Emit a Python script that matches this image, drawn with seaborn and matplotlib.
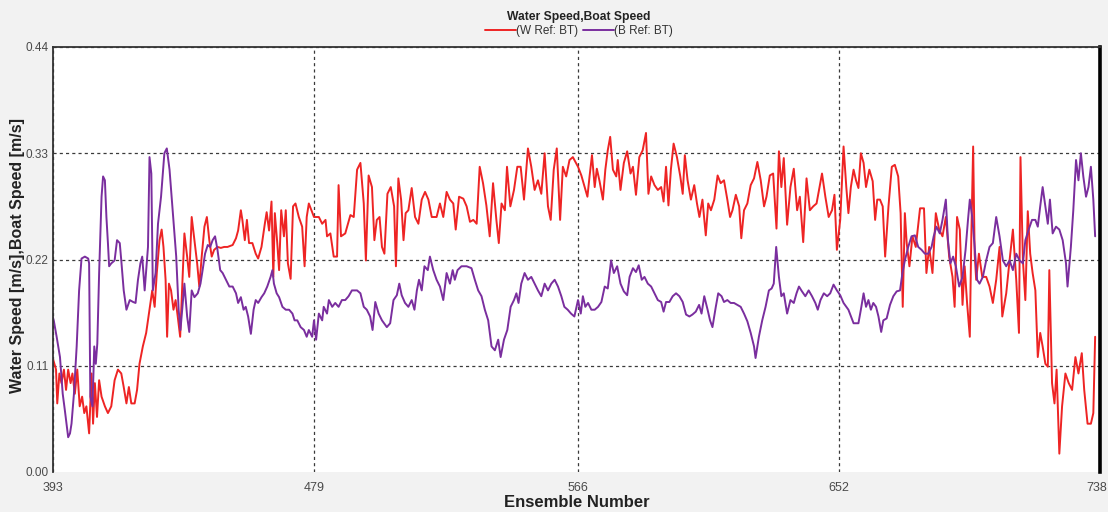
import matplotlib
matplotlib.use("Agg")
import matplotlib.pyplot as plt
import matplotlib.transforms as mtransforms
import pandas as pd
import seaborn as sns

# Water speed (W Ref: BT)
water_ens = [
    393.1, 394.0, 394.4, 395.1, 395.8, 396.6, 397.3, 398.0, 398.8, 399.4, 400.2, 401.0,
    401.8, 402.6, 403.3, 404.0, 404.9, 405.7, 406.2, 406.8, 407.5, 408.2, 409.0, 410.1,
    411.1, 412.2, 413.3, 414.4, 415.5, 416.3, 417.2, 418.0, 418.8, 419.9, 420.7, 421.5,
    422.6, 423.7, 424.8, 425.7, 426.5, 427.2, 428.1, 428.8, 429.4, 430.1, 430.6, 431.2,
    431.9, 432.7, 433.4, 434.1, 434.9,
    436.3, 437.2, 437.9, 438.7, 439.6, 440.5, 441.2, 442.0, 442.9, 443.7, 444.5, 445.3,
    446.1, 447.2, 448.3, 449.4, 450.5, 452.2, 453.3, 454.0, 454.9, 455.4, 456.2, 456.9,
    457.6, 458.7, 459.8, 460.6, 461.7, 462.8, 463.4, 464.2, 465.0, 465.6, 466.1, 466.9,
    467.5, 468.2, 469.1, 469.7, 470.4, 471.3, 472.1, 472.9, 474.0, 475.1, 475.9, 476.6,
    477.3, 479.0, 480.6, 481.7, 482.8, 483.3, 484.4, 485.5, 486.6, 487.1, 487.9, 489.3,
    491.0, 492.1, 493.2, 494.3, 495.4, 496.1, 497.0, 498.1, 498.9, 499.7, 500.6, 501.4,
    502.2, 503.2, 504.3, 505.4, 506.0, 506.8, 507.7, 508.5, 509.2, 510.1, 511.2, 512.3,
    513.4, 514.5, 515.6, 516.7, 517.8, 519.4, 520.5, 521.6, 522.7, 523.8, 524.9, 525.7,
    526.8, 528.2, 529.3, 530.4, 531.5, 532.6, 533.6, 534.7, 535.8, 536.9, 538.0, 539.1,
    539.9, 540.8, 541.9, 542.6, 543.7, 544.9, 546.0, 547.1, 548.2, 549.5, 550.6, 551.7,
    552.8, 553.9, 555.0, 556.1, 557.0, 558.0, 559.0, 560.1, 561.0, 562.1, 563.2, 564.3,
    566.0, 567.1, 568.2, 569.1, 569.8, 570.6, 571.5, 572.2, 573.1, 574.2, 575.0, 575.8,
    576.6, 577.5, 578.6, 579.1, 580.0, 581.1, 582.2, 583.3, 584.1, 585.1, 586.2, 587.3,
    588.4, 589.2, 590.1, 591.2, 592.3, 593.4, 594.2, 595.0, 595.8, 596.6, 597.5, 598.6,
    599.7, 600.5, 601.2, 602.1, 603.2, 604.3, 605.2, 606.0, 607.0, 608.1, 608.9, 609.8,
    610.9, 612.0, 613.0, 614.1, 615.2, 616.1, 616.9, 618.0, 619.1, 619.8, 620.7, 621.8,
    622.9, 624.0, 625.1, 626.2, 627.3, 628.1, 629.2, 630.3, 631.4, 632.2, 633.0, 633.8,
    634.9, 636.0, 637.1, 638.2, 639.1, 640.2, 641.3, 642.4, 643.5, 644.6, 645.6, 646.4,
    647.5, 648.6, 649.7, 650.5, 651.3, 652.4, 653.5,
    654.4, 655.1, 655.9, 656.8, 657.6, 658.4, 659.2, 660.1, 660.9, 662.0, 663.1, 663.9,
    664.6, 665.5, 666.4, 667.2, 668.3, 669.4, 670.4, 671.5, 672.3, 673.0, 673.7, 674.3,
    675.2, 676.2, 677.3, 678.7, 680.0, 680.8, 681.7, 682.8, 683.9, 685.0, 686.1, 687.2,
    688.3, 689.4, 690.1, 690.9, 691.8, 692.7, 693.4, 694.2, 695.1, 695.6, 696.2, 696.7,
    697.2, 698.1, 699.2, 700.5, 701.6, 702.7, 703.8, 704.9, 705.8, 707.1, 708.2, 709.3,
    710.4, 711.3, 711.8, 712.6, 713.4, 714.2, 715.0, 715.8, 716.7, 717.5, 718.3, 719.1,
    720.0, 720.8, 721.3, 722.2, 723.0, 723.7, 724.6, 725.5, 726.6, 727.7, 728.8, 729.9,
    730.9, 732.0, 732.8, 733.9, 735.0, 735.8, 736.4,
]
water_speed = [
    0.116, 0.106, 0.071, 0.102, 0.092, 0.106, 0.085, 0.106, 0.092, 0.102, 0.081, 0.106,
    0.068, 0.078, 0.061, 0.068, 0.040, 0.102, 0.050, 0.092, 0.057, 0.095, 0.078, 0.068,
    0.061, 0.068, 0.095, 0.106, 0.102, 0.088, 0.071, 0.088, 0.071, 0.071, 0.085, 0.112,
    0.130, 0.144, 0.168, 0.188, 0.171, 0.206, 0.240, 0.251, 0.233, 0.199, 0.140, 0.195,
    0.188, 0.168, 0.178, 0.161, 0.140,
    0.247, 0.223, 0.202, 0.264, 0.240, 0.216, 0.192, 0.223, 0.254, 0.264, 0.240, 0.223,
    0.230, 0.233, 0.232, 0.233, 0.233, 0.235, 0.242, 0.250, 0.271, 0.261, 0.240, 0.261,
    0.237, 0.237, 0.226, 0.221, 0.233, 0.257, 0.269, 0.250, 0.280, 0.202, 0.268, 0.237,
    0.209, 0.271, 0.244, 0.271, 0.216, 0.200, 0.275, 0.278, 0.264, 0.254, 0.213, 0.264,
    0.278, 0.264, 0.264, 0.257, 0.261, 0.244, 0.247, 0.223, 0.223, 0.297, 0.244, 0.247,
    0.266, 0.264, 0.313, 0.320, 0.278, 0.219, 0.307, 0.295, 0.240, 0.261, 0.264, 0.233,
    0.226, 0.288, 0.295, 0.275, 0.213, 0.304, 0.282, 0.240, 0.268, 0.271, 0.294, 0.264,
    0.257, 0.282, 0.290, 0.282, 0.264, 0.264, 0.278, 0.264, 0.290, 0.282, 0.278, 0.251,
    0.285, 0.283, 0.275, 0.259, 0.261, 0.257, 0.316, 0.299, 0.276, 0.244, 0.299, 0.261,
    0.237, 0.278, 0.271, 0.316, 0.275, 0.292, 0.316, 0.316, 0.282, 0.335, 0.316, 0.292,
    0.302, 0.288, 0.330, 0.275, 0.261, 0.313, 0.335, 0.261, 0.316, 0.306, 0.323, 0.326,
    0.316, 0.307, 0.295, 0.285, 0.306, 0.328, 0.295, 0.314, 0.301, 0.282, 0.313, 0.333,
    0.347, 0.313, 0.306, 0.323, 0.292, 0.320, 0.332, 0.309, 0.316, 0.287, 0.326, 0.333,
    0.351, 0.288, 0.306, 0.297, 0.292, 0.295, 0.280, 0.316, 0.276, 0.313, 0.340, 0.326,
    0.306, 0.288, 0.328, 0.302, 0.282, 0.297, 0.278, 0.264, 0.282, 0.245, 0.278, 0.271,
    0.282, 0.307, 0.299, 0.302, 0.282, 0.264, 0.271, 0.287, 0.275, 0.242, 0.271, 0.278,
    0.297, 0.304, 0.321, 0.302, 0.275, 0.285, 0.307, 0.309, 0.252, 0.332, 0.295, 0.325,
    0.256, 0.295, 0.314, 0.271, 0.285, 0.238, 0.304, 0.271, 0.275, 0.278, 0.295, 0.309,
    0.285, 0.264, 0.271, 0.287, 0.230, 0.261, 0.337,
    0.295, 0.268, 0.295, 0.313, 0.302, 0.294, 0.330, 0.320, 0.295, 0.313, 0.301, 0.261,
    0.282, 0.282, 0.275, 0.223, 0.275, 0.316, 0.318, 0.306, 0.268, 0.171, 0.268, 0.237,
    0.213, 0.244, 0.233, 0.273, 0.273, 0.206, 0.233, 0.206, 0.268, 0.251, 0.244, 0.264,
    0.223, 0.202, 0.171, 0.264, 0.251, 0.173, 0.213, 0.175, 0.140, 0.244, 0.337, 0.226,
    0.199, 0.226, 0.202, 0.202, 0.192, 0.175, 0.199, 0.233, 0.161, 0.185, 0.219, 0.251,
    0.199, 0.144, 0.326, 0.219, 0.178, 0.270, 0.226, 0.206, 0.188, 0.119, 0.144, 0.130,
    0.112, 0.109, 0.209, 0.092, 0.071, 0.106, 0.019, 0.068, 0.102, 0.092, 0.085, 0.119,
    0.102, 0.123, 0.085, 0.050, 0.050, 0.061, 0.140,
]

# Boat speed (B Ref: BT)
boat_ens = [
    393.0, 393.3, 394.2, 395.3, 396.2, 396.9, 398.0, 398.6, 399.1, 399.9, 400.8, 401.6,
    402.4, 403.5, 404.6, 404.9, 405.3, 406.0, 406.6, 407.1, 407.6, 408.2, 409.0, 409.5,
    410.1, 410.6, 411.1, 411.5, 412.2, 413.3, 414.1, 415.0, 415.5, 416.3, 417.2, 418.3,
    419.4, 420.2, 421.0, 421.8, 422.4, 423.2, 423.7, 424.3, 424.8, 425.4, 425.9, 426.8,
    427.6, 428.6, 429.7, 430.5, 431.4, 432.5, 433.6, 434.4, 435.0,
    436.3, 437.2, 437.9, 438.7, 439.6, 440.7, 441.6, 442.3, 443.1, 444.0, 444.8, 445.6,
    446.4, 447.2, 448.1, 448.9, 450.0, 451.1, 452.2, 453.3, 454.0, 454.9, 455.8, 456.5,
    457.3, 458.2, 459.1, 459.8, 460.6, 461.7, 462.6, 463.6, 464.7, 465.3, 465.8, 466.7,
    467.5, 468.6, 469.7, 470.8, 471.9, 472.6, 473.5, 474.6, 475.7, 476.6,
    477.3, 478.4, 479.0, 479.7, 480.6, 481.7, 482.2, 483.3, 483.9, 485.0, 486.0, 487.1,
    488.2, 489.3, 490.4, 491.5, 493.2, 494.3, 495.4, 496.4, 497.5, 498.3, 499.2, 500.3,
    501.4, 503.0, 504.1, 505.2, 506.3, 507.1, 507.9, 509.0, 510.1, 511.2, 512.1, 512.9,
    513.6, 514.5, 515.4, 516.5, 517.2, 518.3, 519.4, 520.5, 521.6, 522.7, 523.8, 524.7,
    525.4, 526.3, 527.6, 529.3, 530.9, 532.0, 533.1, 534.2, 535.3, 536.4, 537.5, 538.6,
    539.7, 540.5, 541.6, 542.7, 543.8, 544.9, 545.7, 546.4, 547.3, 548.4, 549.5, 550.6,
    551.7, 552.8, 553.9, 555.0, 556.1, 557.2, 558.3, 559.4, 560.5, 561.5, 562.6, 563.7,
    564.8,
    566.0, 566.9, 567.6, 568.4, 569.3, 570.4, 571.5, 572.6, 573.7, 574.8, 575.8, 576.9,
    577.8, 578.9, 580.0, 581.1, 582.2, 583.0, 584.1, 585.1, 586.0, 587.0, 587.9, 589.0,
    590.1, 591.2, 592.3, 593.4, 594.2, 595.0, 596.1, 597.2, 598.3, 599.4, 600.5, 601.6,
    602.7, 603.7, 604.8, 605.9, 606.7, 607.6, 608.7, 609.5, 610.3, 611.4, 612.2, 613.3,
    614.1, 615.2, 616.3, 617.4, 618.5, 619.6, 620.7, 621.8, 622.9, 624.0, 624.5, 625.6,
    626.7, 627.8, 628.9, 629.8, 630.5, 631.3, 632.2, 633.0, 633.8, 634.9, 636.0, 637.1,
    638.0, 638.8, 639.8, 640.9, 642.0, 643.1, 644.2, 645.0, 645.9, 647.0, 648.1, 649.1,
    650.2, 651.3, 652.4, 653.5,
    655.1, 656.8, 658.4, 659.2, 660.1, 660.9, 661.7, 662.5, 663.3, 664.2, 665.0, 665.9,
    666.6, 667.7, 668.8, 669.9, 671.0, 672.1, 672.9, 673.7, 674.8, 675.9, 677.0, 678.1,
    679.2, 680.3, 681.4, 682.5, 683.2, 684.1, 685.2, 686.1, 687.2, 687.9, 688.7, 689.6,
    690.5, 691.6, 692.7, 693.7, 694.5, 695.1, 695.9, 696.7, 697.5, 698.3, 699.4, 700.5,
    701.6, 702.7, 703.8, 704.9, 706.0, 707.1, 708.2, 709.3, 710.4, 711.5, 712.6, 713.4,
    714.5, 715.6, 716.7, 717.5, 718.3, 719.1, 720.0, 720.8, 721.5, 722.4, 723.5, 724.6,
    725.7, 726.8, 727.3, 728.4, 729.2, 730.1, 730.9, 731.7, 732.5, 733.4, 734.2, 735.0,
    735.8, 736.4,
]
boat_speed = [
    0.160, 0.156, 0.140, 0.119, 0.081, 0.064, 0.036, 0.040, 0.050, 0.081, 0.130, 0.188,
    0.221, 0.223, 0.221, 0.216, 0.078, 0.068, 0.130, 0.112, 0.133, 0.206, 0.285, 0.306,
    0.302, 0.264, 0.237, 0.213, 0.216, 0.219, 0.240, 0.237, 0.219, 0.188, 0.168, 0.178,
    0.176, 0.175, 0.199, 0.216, 0.223, 0.188, 0.209, 0.233, 0.326, 0.309, 0.188, 0.206,
    0.257, 0.285, 0.330, 0.335, 0.313, 0.268, 0.223, 0.168, 0.147,
    0.195, 0.161, 0.145, 0.188, 0.181, 0.185, 0.195, 0.209, 0.226, 0.235, 0.233, 0.240,
    0.244, 0.230, 0.209, 0.206, 0.199, 0.192, 0.192, 0.185, 0.175, 0.181, 0.168, 0.171,
    0.161, 0.143, 0.168, 0.178, 0.175, 0.181, 0.185, 0.192, 0.202, 0.209, 0.195, 0.185,
    0.181, 0.171, 0.168, 0.168, 0.164, 0.157, 0.157, 0.150, 0.147, 0.140,
    0.147, 0.140, 0.157, 0.137, 0.164, 0.157, 0.171, 0.164, 0.178, 0.171, 0.175, 0.171,
    0.178, 0.178, 0.182, 0.188, 0.188, 0.185, 0.171, 0.168, 0.161, 0.147, 0.176, 0.164,
    0.157, 0.150, 0.154, 0.178, 0.183, 0.195, 0.183, 0.175, 0.171, 0.178, 0.168, 0.188,
    0.199, 0.188, 0.213, 0.209, 0.223, 0.209, 0.199, 0.192, 0.178, 0.206, 0.195, 0.209,
    0.199, 0.209, 0.213, 0.213, 0.211, 0.199, 0.188, 0.182, 0.168, 0.157, 0.130, 0.126,
    0.137, 0.119, 0.137, 0.147, 0.171, 0.178, 0.185, 0.175, 0.195, 0.206, 0.199, 0.202,
    0.195, 0.188, 0.182, 0.195, 0.188, 0.195, 0.199, 0.192, 0.182, 0.171, 0.168, 0.164,
    0.161,
    0.178, 0.164, 0.182, 0.171, 0.175, 0.168, 0.168, 0.171, 0.176, 0.192, 0.190, 0.219,
    0.206, 0.213, 0.195, 0.187, 0.183, 0.202, 0.211, 0.207, 0.214, 0.199, 0.202, 0.195,
    0.192, 0.185, 0.178, 0.176, 0.166, 0.176, 0.176, 0.182, 0.185, 0.182, 0.176, 0.163,
    0.161, 0.163, 0.166, 0.173, 0.164, 0.182, 0.168, 0.157, 0.150, 0.171, 0.185, 0.182,
    0.176, 0.178, 0.175, 0.175, 0.173, 0.171, 0.164, 0.156, 0.144, 0.130, 0.118, 0.140,
    0.157, 0.171, 0.188, 0.190, 0.195, 0.233, 0.202, 0.182, 0.185, 0.164, 0.178, 0.175,
    0.185, 0.192, 0.187, 0.182, 0.188, 0.182, 0.175, 0.168, 0.178, 0.185, 0.182, 0.185,
    0.194, 0.188, 0.183, 0.175,
    0.168, 0.154, 0.154, 0.168, 0.185, 0.171, 0.178, 0.168, 0.175, 0.171, 0.161, 0.145,
    0.157, 0.159, 0.173, 0.182, 0.187, 0.188, 0.206, 0.219, 0.233, 0.244, 0.245, 0.233,
    0.230, 0.226, 0.226, 0.233, 0.244, 0.254, 0.247, 0.261, 0.282, 0.240, 0.216, 0.223,
    0.213, 0.192, 0.202, 0.230, 0.261, 0.282, 0.264, 0.233, 0.199, 0.195, 0.202, 0.219,
    0.233, 0.237, 0.264, 0.244, 0.219, 0.213, 0.219, 0.209, 0.226, 0.219, 0.216, 0.240,
    0.251, 0.261, 0.261, 0.254, 0.275, 0.295, 0.275, 0.257, 0.282, 0.247, 0.254, 0.251,
    0.240, 0.216, 0.192, 0.233, 0.271, 0.323, 0.302, 0.330, 0.306, 0.285, 0.295, 0.316,
    0.282, 0.244,
]

x_ticks = [393, 479, 566, 652, 738]
y_ticks = [0.00, 0.11, 0.22, 0.33, 0.44]

RED = "#ee2424"
PURPLE = "#7a2e9e"
GRID = "#3a3a3a"

sns.set_style("white")
plt.rcParams["font.family"] = ["Liberation Sans", "DejaVu Sans"]

water = pd.DataFrame({"ensemble": water_ens, "speed": water_speed})
boat = pd.DataFrame({"ensemble": boat_ens, "speed": boat_speed})

fig = plt.figure(figsize=(11.08, 5.12), dpi=100, facecolor="#f2f2f2")
ax = fig.add_axes([53 / 1108, 40 / 512, 1047 / 1108, 425 / 512])
ax.set_facecolor("white")

sns.lineplot(data=water, x="ensemble", y="speed", estimator=None, sort=False,
             color=RED, linewidth=1.4, label="(W Ref: BT)", ax=ax)
sns.lineplot(data=boat, x="ensemble", y="speed", estimator=None, sort=False,
             color=PURPLE, linewidth=1.4, label="(B Ref: BT)", ax=ax)

ax.set_xlim(x_ticks[0], x_ticks[-1])
ax.set_ylim(y_ticks[0], y_ticks[-1])
ax.set_xticks(x_ticks)
ax.set_yticks(y_ticks)
ax.set_yticklabels([f"{v:.2f}" for v in y_ticks])
ax.grid(True, color=GRID, linestyle=(0, (2.5, 2.5)), linewidth=0.9)
# no dashed line along the bottom edge in the original
ax.yaxis.get_gridlines()[0].set_visible(False)
ax.tick_params(axis="both", labelsize=8.5, labelcolor="#4a4a4a", colors="#4a4a4a")
ax.tick_params(axis="y", length=2, pad=1, color="#333333")
ax.tick_params(axis="x", length=0, pad=7, labelsize=9)

# last x label sits at the very edge of the window
last = ax.get_xticklabels()[-1]
last.set_horizontalalignment("right")
last.set_transform(last.get_transform() + mtransforms.ScaledTranslation(7 / 100, 0, fig.dpi_scale_trans))

for side in ["left", "top"]:
    ax.spines[side].set_color("#333333")
    ax.spines[side].set_linewidth(1.3)
ax.spines["bottom"].set_visible(False)
ax.spines["right"].set_color("black")
ax.spines["right"].set_linewidth(2.6)

ax.set_xlabel("Ensemble Number", fontsize=12, fontweight="bold", color="#222222")
ax.xaxis.set_label_coords(0.5, -0.055)
ax.set_ylabel("Water Speed [m/s],Boat Speed [m/s]", fontsize=11.5, fontweight="bold",
              color="#222222")
ax.yaxis.set_label_coords(-0.027, 0.51)

ax.legend(loc="center", bbox_to_anchor=(0.5226, 0.939), bbox_transform=fig.transFigure,
          ncol=2, frameon=False, fontsize=8.5, handlelength=2.6, handletextpad=0.0,
          columnspacing=0.4, labelcolor="#333333")
fig.text(0.5226, 0.967, "Water Speed,Boat Speed", ha="center", va="center",
         fontsize=8.7, fontweight="bold", color="#222222")

fig.savefig("out.png", dpi=100, facecolor=fig.get_facecolor())
plt.close(fig)
